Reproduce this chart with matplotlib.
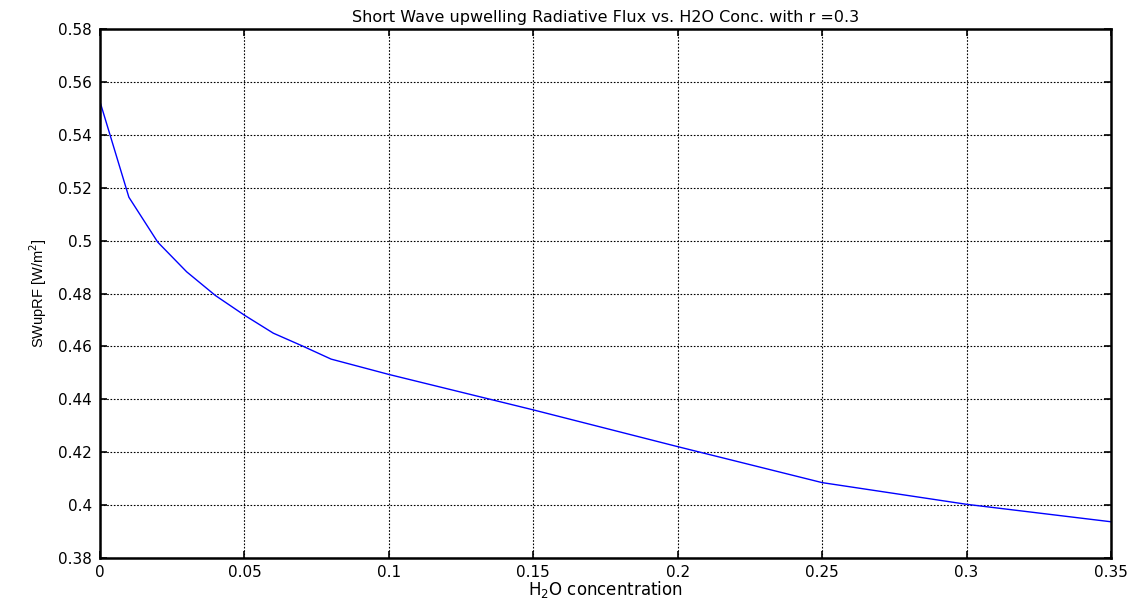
import numpy as np
import matplotlib
matplotlib.use("Agg")
import matplotlib.pyplot as plt

# H2O concentration vs short wave upwelling radiative flux (r = 0.3)
h2o = [0, 0.01, 0.02, 0.03, 0.04, 0.05, 0.06, 0.07, 0.08, 0.1, 0.15, 0.2, 0.25, 0.3, 0.35]
swup = [0.5525, 0.5164, 0.4994, 0.4882, 0.4792, 0.4718, 0.4650, 0.4602, 0.4552,
        0.4494, 0.4360, 0.4221, 0.4085, 0.4003, 0.3937]

xticks = [0, 0.05, 0.1, 0.15, 0.2, 0.25, 0.3, 0.35]
yticks = [0.38, 0.4, 0.42, 0.44, 0.46, 0.48, 0.5, 0.52, 0.54, 0.56, 0.58]

plt.rcParams['font.family'] = ['DejaVu Sans']

fig = plt.figure(figsize=(11.4, 6.01), dpi=100)
ax = fig.add_axes([100 / 1140, 1 - 558 / 601, 1011 / 1140, 529 / 601])

ax.plot(h2o, swup, color='#0000ff', lw=1.0)

ax.set_xlim(0, 0.35)
ax.set_ylim(0.38, 0.58)
ax.set_xticks(xticks)
ax.set_xticklabels([f"{t:g}" for t in xticks])
ax.set_yticks(yticks)
ax.set_yticklabels([f"{t:g}" for t in yticks])

ax.grid(True, color='black', linestyle=(0, (1.5, 1.5)), linewidth=0.8)
ax.tick_params(direction='in', length=5, width=1.2, labelsize=11,
               top=True, right=True)
ax.tick_params(axis='x', pad=5)
ax.tick_params(axis='y', pad=6)
for s in ax.spines.values():
    s.set_linewidth(1.8)

ax.set_title("Short Wave upwelling Radiative Flux vs. H2O Conc. with r =0.3",
             fontsize=11.5, pad=5)
ax.set_xlabel("H$_2$O concentration", fontsize=12, labelpad=-1)
ax.set_ylabel("SWupRF [W/m$^2$]", fontsize=10.5, labelpad=6,
              family=['Liberation Sans', 'DejaVu Sans'])

fig.savefig("out.png", dpi=100)
